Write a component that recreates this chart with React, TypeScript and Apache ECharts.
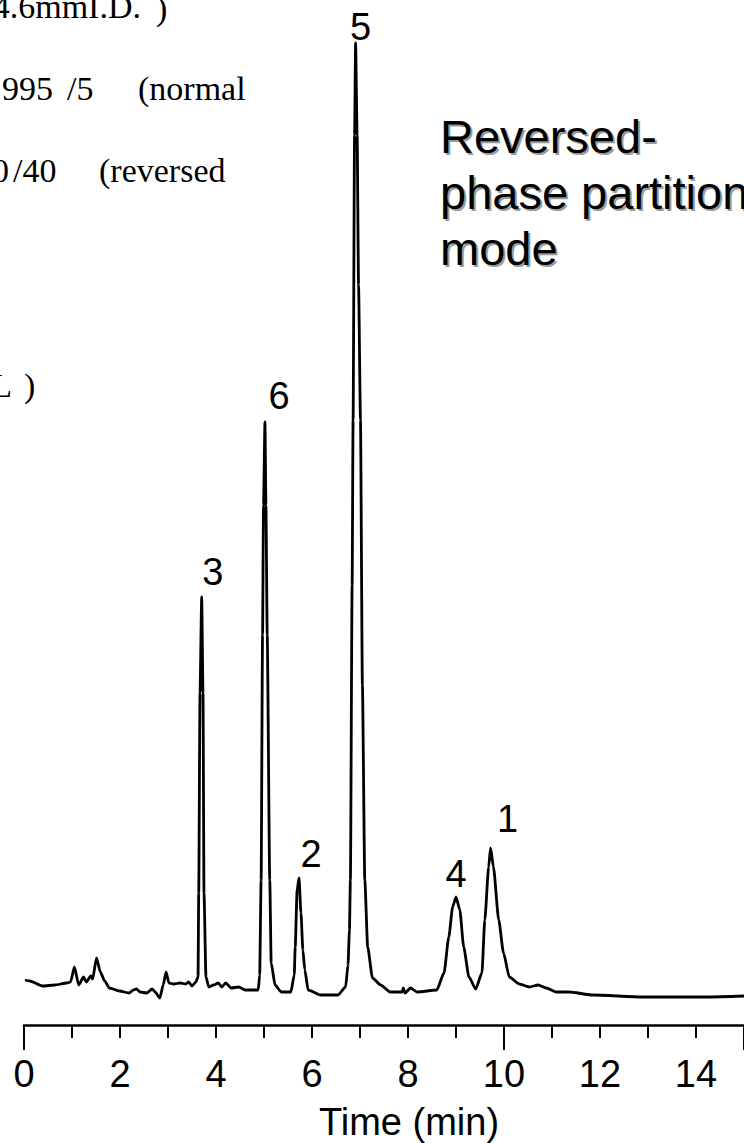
import React, { useEffect, useRef } from "react";
import * as echarts from "echarts";

// Chromatogram trace: retention time (min) and detector response (arbitrary units)
const times = [
  0.02, 0.12, 0.39, 0.64, 0.89, 0.97, 1.05, 1.14, 1.24, 1.3, 1.39, 1.43, 1.51, 1.59, 1.68, 1.78,
  1.99, 2.19, 2.28, 2.34, 2.42, 2.56, 2.67, 2.73, 2.83, 2.9, 2.96, 3.02, 3.12, 3.25, 3.37, 3.43,
  3.5, 3.58, 3.626, 3.64, 3.667, 3.702, 3.729, 3.75, 3.791, 3.85, 3.95, 4.05, 4.12, 4.2, 4.32,
  4.47, 4.61, 4.88, 4.91, 4.94, 4.97, 4.99, 5.02, 5.04, 5.067, 5.12, 5.15, 5.23, 5.36, 5.56,
  5.63, 5.65, 5.69, 5.73, 5.77, 5.81, 5.85, 5.92, 6.18, 6.54, 6.7, 6.75, 6.78, 6.8, 6.836,
  6.856, 6.887, 6.908, 6.94, 6.97, 7.01, 7.05, 7.1, 7.16, 7.26, 7.43, 7.63, 7.88, 7.9, 7.94,
  8.05, 8.19, 8.6, 8.75, 8.85, 8.93, 9.0, 9.08, 9.16, 9.27, 9.41, 9.54, 9.6, 9.68, 9.72, 9.78,
  9.89, 9.99, 10.11, 10.32, 10.53, 10.71, 10.88, 11.09, 11.35, 11.85, 12.89, 14.25, 15.0,
];
const signal = [
  5, 4, -1, 0, 2, 3, 18, 0, 8, 3, 9, 6, 27, 13, 4, -3,
  -6, -8, -5, -4, -7, -8, -4, -7, -13, 0, 13, 2, 1, 2, 1, 3,
  -1, 3, 8, 92, 292, 388, 292, 92, 8, -2, 0, 2, -2, 2, -3,
  -2, -5, -5, 10, 105, 350, 480, 563, 480, 350, 105, 22, 0, -7, -7,
  10, 38, 95, 107, 72, 35, 15, -5, -10, -10, -2, 20, 55, 105, 400,
  565, 850, 942, 850, 700, 565, 300, 105, 38, 7, 0, -7, -7, -3, -8,
  -3, -7, -5, 12, 48, 78, 88, 75, 38, 8, -4, 12, 65, 118, 137, 118,
  65, 32, 8, 1, -2, 0, -3, -7, -7, -10, -12, -12, -11,
];

// Numbered peaks and their retention times
const peakIds = ["3", "6", "2", "5", "4", "1"];
const peakTimes = [3.702, 5.02, 5.73, 6.908, 9.0, 9.72];

// Time axis
const timeMin = 0;
const timeMax = 15;

const SANS = "'Liberation Sans', Arial, sans-serif";
const SERIF = "'Liberation Serif', 'Times New Roman', serif";

// Where each peak number sits relative to its apex (px)
const labelOffsets: Record<string, [number, number]> = {
  "3": [11, -25],
  "6": [14, -26],
  "2": [12, -24],
  "5": [5, -16],
  "4": [0, -23],
  "1": [17, -29],
};

function serifText(text: string, x: number, y: number, align = "left") {
  return {
    type: "text",
    x,
    y,
    silent: true,
    style: {
      text,
      fill: "#000",
      fontFamily: SERIF,
      fontSize: 34,
      align,
      verticalAlign: "middle",
    },
  };
}

export default function App() {
  const ref = useRef<HTMLDivElement>(null);

  useEffect(() => {
    if (!ref.current) return;
    const chart = echarts.init(ref.current, undefined, { renderer: "svg" });

    const trace = times.map((t, i) => [t, signal[i]]);
    const peaks = peakIds.map((id, i) => {
      const idx = times.indexOf(peakTimes[i]);
      return {
        name: id,
        value: [peakTimes[i], signal[idx]],
        label: { offset: labelOffsets[id] },
      };
    });

    const modeLines = "Reversed-\nphase partition\nmode";

    chart.setOption({
      animation: false,
      backgroundColor: "#fff",
      grid: { left: 24, right: 0, top: 25, bottom: 118, containLabel: false },
      xAxis: [
        {
          type: "value",
          min: timeMin,
          max: timeMax,
          interval: 1,
          position: "bottom",
          axisLine: { show: true, onZero: false, lineStyle: { color: "#000", width: 2.5 } },
          axisTick: { show: true, inside: false, length: 13, lineStyle: { color: "#000", width: 2 } },
          axisLabel: {
            show: true,
            margin: 30,
            color: "#000",
            fontFamily: SANS,
            fontSize: 38,
            formatter: (v: number) => (Math.round(v) % 2 === 0 && v < timeMax ? String(v) : ""),
          },
          splitLine: { show: false },
        },
        {
          type: "value",
          min: timeMin,
          max: timeMax,
          interval: 10,
          position: "bottom",
          axisLine: { show: false, onZero: false },
          axisTick: { show: true, inside: false, length: 25, lineStyle: { color: "#000", width: 2 } },
          axisLabel: { show: false },
          splitLine: { show: false },
        },
      ],
      yAxis: { type: "value", min: -40, max: 960, show: false },
      series: [
        {
          type: "line",
          xAxisIndex: 0,
          data: trace,
          showSymbol: false,
          smooth: 0.2,
          smoothMonotone: "x",
          lineStyle: { color: "#000", width: 2.8 },
          silent: true,
          clip: false,
        },
        {
          type: "scatter",
          xAxisIndex: 0,
          data: peaks,
          symbolSize: 0,
          silent: true,
          itemStyle: { opacity: 1, color: "#000" },
          label: {
            show: true,
            position: "inside",
            formatter: "{b}",
            color: "#000",
            opacity: 1,
            textBorderWidth: 0,
            fontFamily: SANS,
            fontSize: 38,
          },
        },
      ],
      graphic: [
        // Column / eluent notes cut off at the left edge
        serifText("4.6mmI.D.", 141, 6, "right"),
        serifText(")", 156, 8),
        serifText("995", 53, 88, "right"),
        serifText("/5", 67, 88),
        serifText("(normal", 138, 88),
        serifText("0", 9, 170, "right"),
        serifText("/40", 13, 170),
        serifText("(reversed", 99, 170),
        serifText("L", 12, 385, "right"),
        serifText(")", 24, 385),
        // Separation mode caption with a drop shadow
        {
          type: "text",
          x: 442,
          y: 110,
          silent: true,
          style: {
            text: modeLines,
            fill: "#9a9a9a",
            fontFamily: SANS,
            fontSize: 47,
            lineHeight: 56,
            align: "left",
            verticalAlign: "top",
          },
        },
        {
          type: "text",
          x: 440,
          y: 108,
          silent: true,
          style: {
            text: modeLines,
            fill: "#000",
            fontFamily: SANS,
            fontSize: 47,
            lineHeight: 56,
            align: "left",
            verticalAlign: "top",
          },
        },
        {
          type: "text",
          x: 409,
          y: 1122,
          silent: true,
          style: {
            text: "Time (min)",
            fill: "#000",
            fontFamily: SANS,
            fontSize: 38,
            align: "center",
            verticalAlign: "middle",
          },
        },
      ],
    });

    return () => chart.dispose();
  }, []);

  return (
    <div
      ref={ref}
      style={{ position: "fixed", left: 0, top: 0, width: 747, height: 1143, background: "#fff" }}
    />
  );
}
